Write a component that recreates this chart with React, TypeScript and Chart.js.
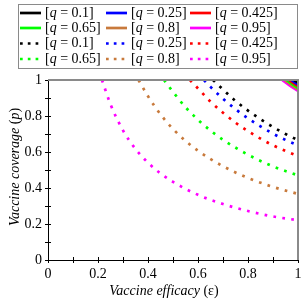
import React, { useEffect, useRef } from 'react';
import { Chart, registerables } from 'chart.js';
Chart.register(...registerables);

// ---------- data ----------
const qValues = ['0.1', '0.25', '0.425', '0.65', '0.8', '0.95'];
const seriesColors = ['#000000', '#0000ff', '#ff0000', '#00ff00', '#c87a3c', '#ff00ff'];
const tickLabels = ['0', '0.2', '0.4', '0.6', '0.8', '1'];

// solid curves (tiny arcs in the top-right corner)
const solidQ010Eps = [0.985, 0.993, 1.0];
const solidQ010P = [1.0, 0.993, 0.986];
const solidQ025Eps = [0.975, 0.987, 1.0];
const solidQ025P = [1.0, 0.988, 0.976];
const solidQ0425Eps = [0.966, 0.982, 1.0];
const solidQ0425P = [1.0, 0.983, 0.966];
const solidQ065Eps = [0.956, 0.977, 1.0];
const solidQ065P = [1.0, 0.978, 0.957];
const solidQ080Eps = [0.948, 0.973, 1.0];
const solidQ080P = [1.0, 0.974, 0.949];
const solidQ095Eps = [0.938, 0.968, 1.0];
const solidQ095P = [1.0, 0.969, 0.94];

// dotted curves
const dotQ010Eps = [0.66, 0.7, 0.75, 0.8, 0.85, 0.9, 0.95, 1.0];
const dotQ010P = [1.0, 0.947, 0.884, 0.83, 0.782, 0.739, 0.7, 0.666];
const dotQ025Eps = [0.624, 0.65, 0.7, 0.75, 0.8, 0.85, 0.9, 0.95, 1.0];
const dotQ025P = [1.0, 0.962, 0.896, 0.838, 0.787, 0.742, 0.702, 0.667, 0.637];
const dotQ0425Eps = [0.568, 0.6, 0.65, 0.7, 0.75, 0.8, 0.9, 1.0];
const dotQ0425P = [1.0, 0.953, 0.88, 0.818, 0.763, 0.716, 0.637, 0.577];
const dotQ065Eps = [0.464, 0.5, 0.55, 0.6, 0.65, 0.7, 0.8, 0.9, 1.0];
const dotQ065P = [1.0, 0.934, 0.849, 0.779, 0.719, 0.668, 0.585, 0.52, 0.47];
const dotQ080Eps = [0.362, 0.4, 0.45, 0.5, 0.55, 0.6, 0.7, 0.8, 0.9, 1.0];
const dotQ080P = [1.0, 0.91, 0.809, 0.728, 0.662, 0.607, 0.521, 0.456, 0.406, 0.367];
const dotQ095Eps = [0.216, 0.25, 0.3, 0.35, 0.4, 0.45, 0.5, 0.6, 0.7, 0.8, 0.9, 1.0];
const dotQ095P = [1.0, 0.865, 0.72, 0.617, 0.541, 0.481, 0.434, 0.362, 0.311, 0.272, 0.242, 0.221];

const solidSeries = [
  [solidQ010Eps, solidQ010P],
  [solidQ025Eps, solidQ025P],
  [solidQ0425Eps, solidQ0425P],
  [solidQ065Eps, solidQ065P],
  [solidQ080Eps, solidQ080P],
  [solidQ095Eps, solidQ095P],
];
const dottedSeries = [
  [dotQ010Eps, dotQ010P],
  [dotQ025Eps, dotQ025P],
  [dotQ0425Eps, dotQ0425P],
  [dotQ065Eps, dotQ065P],
  [dotQ080Eps, dotQ080P],
  [dotQ095Eps, dotQ095P],
];

const SERIF = '"Liberation Serif", "Times New Roman", serif';

type Run = { t: string; i: boolean };

function runsWidth(ctx: CanvasRenderingContext2D, runs: Run[], size: number) {
  let w = 0;
  for (const r of runs) {
    ctx.font = `${r.i ? 'italic ' : ''}${size}px ${SERIF}`;
    w += ctx.measureText(r.t).width;
  }
  return w;
}
function drawRuns(ctx: CanvasRenderingContext2D, runs: Run[], x: number, y: number, size: number) {
  let cx = x;
  ctx.textAlign = 'left';
  ctx.textBaseline = 'middle';
  for (const r of runs) {
    ctx.font = `${r.i ? 'italic ' : ''}${size}px ${SERIF}`;
    ctx.fillText(r.t, cx, y);
    cx += ctx.measureText(r.t).width;
  }
}

const decorPlugin = {
  id: 'decor',
  afterDraw(chart: any) {
    const { ctx, chartArea: a, scales } = chart;
    const xs = scales.x;
    const ys = scales.y;
    ctx.save();
    // inner ticks
    ctx.strokeStyle = '#000';
    ctx.lineWidth = 1;
    ctx.beginPath();
    for (const t of xs.ticks) {
      const px = Math.round(xs.getPixelForValue(t.value)) + 0.5;
      ctx.moveTo(px, a.bottom);
      ctx.lineTo(px, a.bottom - 3);
    }
    for (const t of ys.ticks) {
      const py = Math.round(ys.getPixelForValue(t.value)) + 0.5;
      ctx.moveTo(a.left, py);
      ctx.lineTo(a.left + 3, py);
    }
    ctx.stroke();
    // top / right frame
    ctx.strokeStyle = '#8a8a8a';
    ctx.lineWidth = 2;
    ctx.beginPath();
    ctx.moveTo(a.left, a.top);
    ctx.lineTo(a.right, a.top);
    ctx.lineTo(a.right, a.bottom);
    ctx.stroke();

    // legend
    ctx.strokeStyle = '#8a8a8a';
    ctx.lineWidth = 1;
    ctx.strokeRect(18.5, 4.5, 279, 64);
    const colX = [20, 106, 190];
    const rowY = [13, 28, 43.5, 59];
    chart.data.datasets.forEach((ds: any, i: number) => {
      const row = Math.floor(i / 3);
      const col = i % 3;
      const x0 = colX[col];
      const y0 = rowY[row];
      ctx.strokeStyle = ds.borderColor;
      ctx.lineWidth = 2.7;
      ctx.lineCap = 'butt';
      ctx.setLineDash(ds.borderDash && ds.borderDash.length ? [2.7, 5.1] : []);
      ctx.beginPath();
      ctx.moveTo(x0, y0);
      ctx.lineTo(x0 + 21, y0);
      ctx.stroke();
      ctx.setLineDash([]);
      ctx.fillStyle = '#000';
      drawRuns(ctx, [
        { t: '[', i: false },
        { t: 'q', i: true },
        { t: ' = ' + ds.qLabel + ']', i: false },
      ], x0 + 25, y0, 14);
    });

    // axis titles
    ctx.fillStyle = '#000';
    const xRuns: Run[] = [
      { t: 'Vaccine efficacy ', i: true },
      { t: '(ε)', i: false },
    ];
    const xw = runsWidth(ctx, xRuns, 14);
    drawRuns(ctx, xRuns, 164 - xw / 2, 291, 14);

    const yRuns: Run[] = [
      { t: 'Vaccine coverage ', i: true },
      { t: '(', i: false },
      { t: 'p', i: true },
      { t: ')', i: false },
    ];
    const yw = runsWidth(ctx, yRuns, 14);
    ctx.translate(15, 167);
    ctx.rotate(-Math.PI / 2);
    drawRuns(ctx, yRuns, -yw / 2, 0, 14);
    ctx.restore();
  },
};

export default function App() {
  const ref = useRef<HTMLCanvasElement | null>(null);
  useEffect(() => {
    if (!ref.current) return;
    const mk = (eps: number[], p: number[]) => eps.map((e, k) => ({ x: e, y: p[k] }));
    const datasets: any[] = [];
    solidSeries.forEach(([e, p], i) => {
      datasets.push({
        label: `[q = ${qValues[i]}]`,
        qLabel: qValues[i],
        data: mk(e, p),
        borderColor: seriesColors[i],
        backgroundColor: seriesColors[i],
        borderWidth: 3,
        showLine: true,
        pointRadius: 0,
        cubicInterpolationMode: 'monotone',
        borderDash: [],
      });
    });
    dottedSeries.forEach(([e, p], i) => {
      datasets.push({
        label: `[q = ${qValues[i]}]`,
        qLabel: qValues[i],
        data: mk(e, p),
        borderColor: seriesColors[i],
        backgroundColor: seriesColors[i],
        borderWidth: 2.7,
        borderDash: [2.7, 6.3],
        borderCapStyle: 'butt',
        showLine: true,
        pointRadius: 0,
        cubicInterpolationMode: 'monotone',
      });
    });
    const tickCb = (v: any) => {
      const k = Math.round(Number(v) * 10);
      return k % 2 === 0 ? tickLabels[k / 2] : '';
    };
    const axis = (fit: (s: any) => void) => ({
      type: 'linear',
      min: 0,
      max: 1,
      afterFit: fit,
      ticks: {
        stepSize: 0.1,
        autoSkip: false,
        maxRotation: 0,
        padding: 3,
        color: '#000',
        font: { family: SERIF, size: 14 },
        callback: tickCb,
      },
      grid: { drawOnChartArea: false, drawTicks: true, tickLength: 3, color: '#000', lineWidth: 1 },
      border: { display: true, color: '#000', width: 1 },
      title: { display: false },
    });
    const chart = new Chart(ref.current, {
      type: 'scatter',
      data: { datasets },
      options: {
        animation: false,
        responsive: false,
        devicePixelRatio: 1,
        layout: { padding: { top: 80, left: 0, right: 7, bottom: 0 } },
        plugins: { legend: { display: false }, tooltip: { enabled: false } },
        scales: {
          x: axis((s: any) => { s.height = 44; }),
          y: axis((s: any) => { s.width = 48; }),
        },
      } as any,
      plugins: [decorPlugin],
    });
    return () => chart.destroy();
  }, []);
  return (
    <div style={{ position: 'fixed', left: 0, top: 0, width: 305, height: 304, background: '#fff' }}>
      <canvas ref={ref} width={305} height={304} style={{ width: 305, height: 304, display: 'block' }} />
    </div>
  );
}
